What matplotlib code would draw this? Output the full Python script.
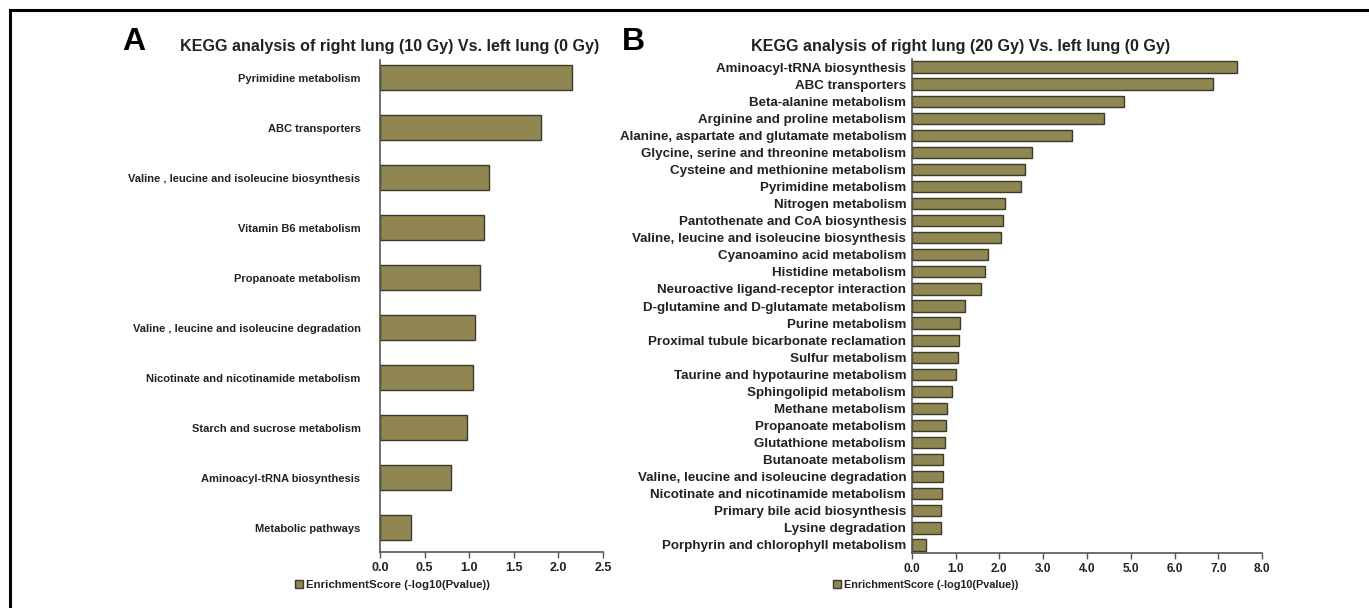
import matplotlib
matplotlib.use('Agg')
import matplotlib.pyplot as plt
from matplotlib.lines import Line2D

plt.rcParams['font.family'] = ['Liberation Sans', 'DejaVu Sans']
plt.rcParams['font.weight'] = 'bold'

# panel A data (10 Gy vs 0 Gy)
paths_a = ['Pyrimidine metabolism', 'ABC transporters',
           'Valine , leucine and isoleucine biosynthesis', 'Vitamin B6 metabolism',
           'Propanoate metabolism', 'Valine , leucine and isoleucine degradation',
           'Nicotinate and nicotinamide metabolism', 'Starch and sucrose metabolism',
           'Aminoacyl-tRNA biosynthesis', 'Metabolic pathways']
scores_a = [2.15, 1.80, 1.22, 1.17, 1.12, 1.06, 1.04, 0.97, 0.80, 0.35]

# panel B data (20 Gy vs 0 Gy)
paths_b = ['Aminoacyl-tRNA biosynthesis', 'ABC transporters', 'Beta-alanine metabolism',
           'Arginine and proline metabolism', 'Alanine, aspartate and glutamate metabolism',
           'Glycine, serine and threonine metabolism', 'Cysteine and methionine metabolism',
           'Pyrimidine metabolism', 'Nitrogen metabolism', 'Pantothenate and CoA biosynthesis',
           'Valine, leucine and isoleucine biosynthesis', 'Cyanoamino acid metabolism',
           'Histidine metabolism', 'Neuroactive ligand-receptor interaction',
           'D-glutamine and D-glutamate metabolism', 'Purine metabolism',
           'Proximal tubule bicarbonate reclamation', 'Sulfur metabolism',
           'Taurine and hypotaurine metabolism', 'Sphingolipid metabolism',
           'Methane metabolism', 'Propanoate metabolism', 'Glutathione metabolism',
           'Butanoate metabolism', 'Valine, leucine and isoleucine degradation',
           'Nicotinate and nicotinamide metabolism', 'Primary bile acid biosynthesis',
           'Lysine degradation', 'Porphyrin and chlorophyll metabolism']
scores_b = [7.43, 6.87, 4.85, 4.38, 3.66, 2.74, 2.58, 2.50, 2.12, 2.08,
            2.04, 1.74, 1.67, 1.58, 1.22, 1.10, 1.08, 1.06, 1.01, 0.92,
            0.80, 0.78, 0.75, 0.72, 0.71, 0.69, 0.67, 0.67, 0.32]

legend_label = 'EnrichmentScore (-log10(Pvalue))'
bar_col = '#8f8652'
edge_col = '#3b3a2a'
txt_col = '#222222'

W, H = 1369, 608
fig = plt.figure(figsize=(W / 100, H / 100), dpi=100)


def px_axes(x0, x1, ytop, ybot):
    return fig.add_axes([x0 / W, 1 - ybot / H, (x1 - x0) / W, (ybot - ytop) / H])


def style(ax, label_size, pad, tick_size):
    for s in ['top', 'right']:
        ax.spines[s].set_visible(False)
    for s in ['left', 'bottom']:
        ax.spines[s].set_color('#555555')
        ax.spines[s].set_linewidth(1.2)
    ax.tick_params(axis='y', length=0, pad=pad, labelsize=label_size, labelcolor=txt_col)
    ax.tick_params(axis='x', length=4, width=1, color='#555555', labelsize=tick_size,
                   labelcolor=txt_col, pad=3)
    for t in ax.get_xticklabels() + ax.get_yticklabels():
        t.set_fontweight('bold')


# panel A
axA = px_axes(380, 603, 60, 552)
yA = list(range(len(paths_a)))
axA.barh(yA, scores_a, height=0.5, color=bar_col, edgecolor=edge_col, linewidth=1,
         label=legend_label)
axA.set_yticks(yA)
axA.set_yticklabels(paths_a)
axA.set_ylim(9.49, -0.35)
axA.set_xlim(0, 2.5)
axA.set_xticks([0, 0.5, 1.0, 1.5, 2.0, 2.5])
axA.set_xticklabels(['0.0', '0.5', '1.0', '1.5', '2.0', '2.5'])
style(axA, 8.0, 14, 9.0)

# panel B
axB = px_axes(911.7, 1262.3, 59, 553)
yB = list(range(len(paths_b)))
axB.barh(yB, scores_b, height=0.66, color=bar_col, edgecolor=edge_col, linewidth=1,
         label=legend_label)
axB.set_yticks(yB)
axB.set_yticklabels(paths_b)
axB.set_ylim(28.47, -0.47)
axB.set_xlim(0, 8)
axB.set_xticks(range(9))
axB.set_xticklabels(['%.1f' % v for v in range(9)])
style(axB, 9.6, 4, 8.6)

# titles and panel letters
fig.text(390 / W, 1 - 46 / H, 'KEGG analysis of right lung (10 Gy) Vs. left lung (0 Gy)',
         ha='center', va='center', fontsize=11.6, fontweight='bold', color=txt_col)
fig.text(961 / W, 1 - 46 / H, 'KEGG analysis of right lung (20 Gy) Vs. left lung (0 Gy)',
         ha='center', va='center', fontsize=11.6, fontweight='bold', color=txt_col)
fig.text(122 / W, 1 - 42 / H, 'A', ha='left', va='center', fontsize=23, fontweight='bold',
         color='black')
fig.text(622 / W, 1 - 42 / H, 'B', ha='left', va='center', fontsize=23, fontweight='bold',
         color='black')

# legends
for ax, x0, fs in [(axA, 289, 8.2), (axB, 828, 7.8)]:
    ax.legend(loc='center left', bbox_to_anchor=(x0 / W, 1 - 585 / H),
              bbox_transform=fig.transFigure, frameon=False, borderpad=0,
              handlelength=0.7, handleheight=0.7, handletextpad=0.3,
              prop={'size': fs, 'weight': 'bold'}, labelcolor=txt_col)

# outer frame lines (left and top)
fig.add_artist(Line2D([10 / W, 10 / W], [0, 1 - 10 / H], transform=fig.transFigure,
                      color='black', linewidth=2.2))
fig.add_artist(Line2D([10 / W, 1], [1 - 10 / H, 1 - 10 / H], transform=fig.transFigure,
                      color='black', linewidth=2.2))

fig.savefig('out.png', dpi=100)
